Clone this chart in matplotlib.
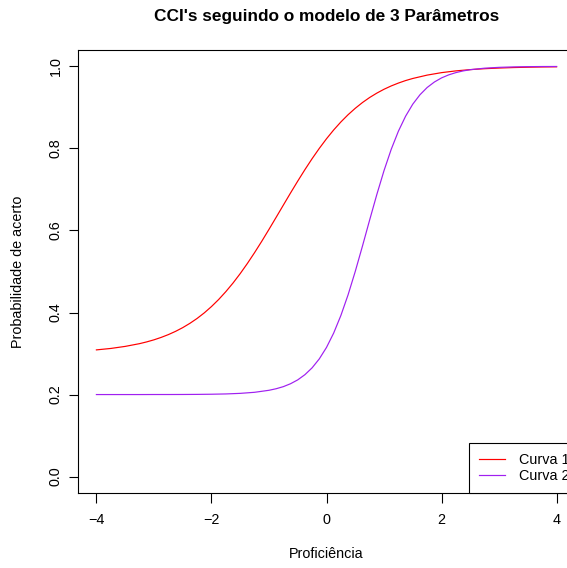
import matplotlib
matplotlib.use("Agg")
import matplotlib.pyplot as plt

plt.rcParams["font.family"] = ["Liberation Sans", "DejaVu Sans"]

# Item characteristic curves (3-parameter logistic model)
theta_1 = [-4.0, -3.75, -3.5, -3.25, -3.125, -3.0, -2.875, -2.75, -2.625,
           -2.5, -2.375, -2.25, -2.125, -2.0, -1.875, -1.75, -1.625, -1.5,
           -1.375, -1.25, -1.125, -1.0, -0.875, -0.75, -0.625, -0.5, -0.375,
           -0.25, -0.125, 0.0, 0.125, 0.25, 0.375, 0.5, 0.625, 0.75, 0.875,
           1.0, 1.125, 1.25, 1.375, 1.5, 1.75, 2.0, 2.25, 2.5, 2.75, 3.0,
           3.25, 3.5, 3.75, 4.0]
prob_1 = [0.3089, 0.3124, 0.3174, 0.3241, 0.3284, 0.3334, 0.3393, 0.3461,
          0.3540, 0.3631, 0.3736, 0.3855, 0.3991, 0.4145, 0.4317, 0.4509,
          0.4719, 0.4949, 0.5197, 0.5461, 0.5738, 0.6027, 0.6322, 0.6619,
          0.6915, 0.7204, 0.7484, 0.7751, 0.8002, 0.8236, 0.8451, 0.8646,
          0.8822, 0.8979, 0.9119, 0.9242, 0.9349, 0.9443, 0.9524, 0.9594,
          0.9655, 0.9706, 0.9788, 0.9848, 0.9891, 0.9922, 0.9944, 0.9960,
          0.9972, 0.9980, 0.9986, 0.9990]

theta_2 = [-4.0, -3.75, -3.5, -3.25, -3.0, -2.75, -2.5, -2.25, -2.0, -1.75,
           -1.5, -1.25, -1.0, -0.875, -0.75, -0.625, -0.5, -0.375, -0.25,
           -0.125, 0.0, 0.125, 0.25, 0.375, 0.5, 0.625, 0.75, 0.875, 1.0,
           1.125, 1.25, 1.375, 1.5, 1.625, 1.75, 1.875, 2.0, 2.125, 2.25,
           2.375, 2.5, 2.75, 3.0, 3.25, 3.5, 3.75, 4.0]
prob_2 = [0.2000, 0.2000, 0.2000, 0.2000, 0.2001, 0.2001, 0.2002, 0.2004,
          0.2008, 0.2015, 0.2029, 0.2055, 0.2104, 0.2142, 0.2193, 0.2264,
          0.2358, 0.2485, 0.2652, 0.2870, 0.3149, 0.3500, 0.3928, 0.4431,
          0.5002, 0.5619, 0.6255, 0.6878, 0.7460, 0.7978, 0.8421, 0.8786,
          0.9080, 0.9309, 0.9486, 0.9619, 0.9720, 0.9794, 0.9849, 0.9890,
          0.9920, 0.9957, 0.9977, 0.9988, 0.9994, 0.9997, 0.9998]

series_labels = ["Curva 1", "Curva 2"]
x_ticks = [-4, -2, 0, 2, 4]
y_ticks = [0.0, 0.2, 0.4, 0.6, 0.8, 1.0]

W, H = 567, 568
FS = 14.4
fig = plt.figure(figsize=(W / 72, H / 72), dpi=72)
fig.patch.set_facecolor("white")

# plot region (extends slightly past the right edge of the canvas)
left, right, top, bottom = 78, 575, 50, 493
ax = fig.add_axes([left / W, (H - bottom) / H, (right - left) / W, (bottom - top) / H])

ax.plot(theta_1, prob_1, color="red", lw=1.2, label=series_labels[0])
ax.plot(theta_2, prob_2, color="#A020F0", lw=1.2, label=series_labels[1])

ax.set_xlim(-4.32, 4.32)
ax.set_ylim(-0.04, 1.04)

for s in ax.spines.values():
    s.set_color("black")
    s.set_linewidth(1.1)

ax.set_xticks(x_ticks)
ax.set_xticklabels([f"{t}".replace("-", "\u2212") for t in x_ticks])
ax.set_yticks(y_ticks)
ax.set_yticklabels([f"{t:.1f}" for t in y_ticks], rotation=90, va="center")
ax.tick_params(axis="both", direction="out", length=9.5, width=1.1,
               color="black", labelsize=FS, labelcolor="black")
ax.tick_params(axis="x", pad=11)
ax.tick_params(axis="y", pad=6)

fig.text(326.5 / W, 1 - 16 / H, "CCI's seguindo o modelo de 3 Parâmetros",
         ha="center", va="center", fontsize=17.3, fontweight="bold")
fig.text(326.5 / W, 1 - 554 / H, "Proficiência", ha="center", va="center",
         fontsize=FS)
fig.text(18 / W, 1 - 271.5 / H, "Probabilidade de acerto", ha="center",
         va="center", rotation=90, fontsize=FS)

leg = ax.legend(loc="lower left", bbox_to_anchor=((469 - left) / (right - left), 0.0),
                borderaxespad=0, fancybox=False, framealpha=1.0, edgecolor="black",
                fontsize=FS, handlelength=1.8, handletextpad=0.95,
                borderpad=0.7, labelspacing=0.1)
leg.get_frame().set_linewidth(1.1)
for line in leg.get_lines():
    line.set_linewidth(1.2)

fig.savefig("out.png", dpi=72, facecolor="white")
